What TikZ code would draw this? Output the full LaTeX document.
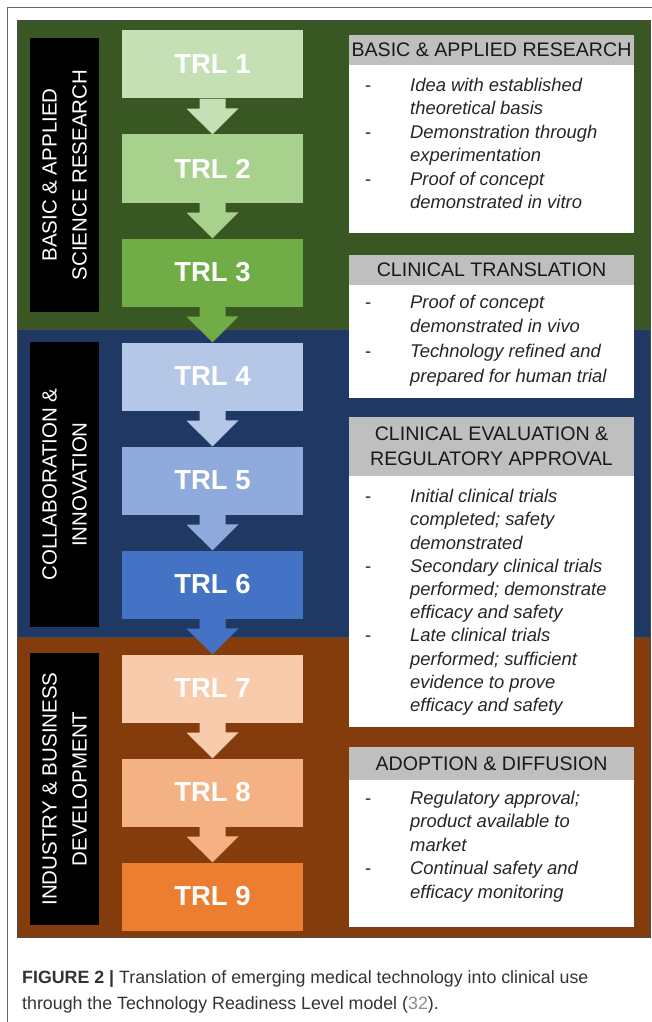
\documentclass[tikz,border=0pt]{standalone}
\usepackage{fontspec}
\setmainfont{Liberation Sans}
\usetikzlibrary{positioning}
\usetikzlibrary{calc}
\definecolor{bandgreen}{RGB}{56,87,35}
\definecolor{bandblue}{RGB}{32,56,100}
\definecolor{bandbrown}{RGB}{132,60,12}
\definecolor{trlone}{RGB}{197,224,180}
\definecolor{trltwo}{RGB}{169,209,142}
\definecolor{trlthree}{RGB}{112,173,71}
\definecolor{trlfour}{RGB}{180,199,231}
\definecolor{trlfive}{RGB}{143,170,220}
\definecolor{trlsix}{RGB}{68,114,196}
\definecolor{trlseven}{RGB}{248,203,173}
\definecolor{trleight}{RGB}{244,177,131}
\definecolor{trlnine}{RGB}{237,125,49}
\definecolor{headgray}{RGB}{191,191,191}
\definecolor{bodytext}{RGB}{38,38,38}
\definecolor{captext}{RGB}{51,51,51}
\newcommand{\dashitem}{\llap{\makebox[45pt][l]{\upshape -}}}

\begin{document}
\begin{tikzpicture}[x=1pt, y=-1pt,
    band/.style={draw=black!70, line width=0.8pt},
    sidebox/.style={fill=black, minimum height=69pt, text=white, align=center, rotate=90, inner sep=0pt, font=\fontsize{20.5}{30}\selectfont},
    trlbox/.style={minimum width=181pt, minimum height=68pt, text=white, inner sep=0pt, font=\bfseries\fontsize{27.5}{30}\selectfont},
    headbox/.style={fill=headgray, minimum width=285pt, inner sep=0pt, align=center, text=black!90, font=\fontsize{19.6}{25}\selectfont},
    bodybox/.style={fill=white, minimum width=285pt, inner sep=0pt},
    bodytxt/.style={anchor=base west, inner sep=0pt, align=left, text=bodytext, font=\itshape\fontsize{18.4}{23.5}\selectfont}]

        \useasboundingbox (0,0) rectangle (652,1022);

        % Frame
        \draw[black!60, line width=1pt] (7,1022) -- (7,8) -- (652,8);

        % Bands
        \fill[bandgreen, band] (17,20) rectangle (650,329);
        \fill[bandblue, band] (17,329) rectangle (650,637);
        \fill[bandbrown, band] (17,637) rectangle (650,937);

        % Side labels
        \node[sidebox, minimum width=274pt] (sideA) at (64.5,175) {BASIC \& APPLIED\\SCIENCE RESEARCH};
        \node[sidebox, minimum width=285pt] (sideB) at (64.5,484.5) {COLLABORATION \&\\INNOVATION};
        \node[sidebox, minimum width=272pt] (sideC) at (64.5,789) {INDUSTRY \& BUSINESS\\DEVELOPMENT};

        % TRL steps
        \foreach \i/\c in {1/trlone,2/trltwo,3/trlthree,4/trlfour,5/trlfive,6/trlsix,7/trlseven,8/trleight,9/trlnine}
            \node[trlbox, fill=\c] (t\i) at (212.5,{64.5+104*(\i-1)}) {TRL \i};

        % Arrows between steps
        \foreach \i/\j/\c in {1/2/trlone,2/3/trltwo,3/4/trlthree,4/5/trlfour,5/6/trlfive,6/7/trlsix,7/8/trlseven,8/9/trleight}
            \fill[\c] ($(t\i.south)+(-13,0)$) -- ++(0,10) -- ++(-13,0) -- (t\j.north) -- ++(26,-26) -- ++(-13,0) -- ($(t\i.south)+(13,0)$) -- cycle;

        % Right boxes (text placed by its last baseline)
        \node[headbox, minimum height=30pt] (hA) at (491.5,50) {BASIC \& APPLIED RESEARCH};
        \node[bodybox, minimum height=168pt, below=0pt of hA] (bA) {};
        \node[bodytxt] (xA) at (410,208.5) {%
            \dashitem Idea with established\\
            theoretical basis\\
            \dashitem Demonstration through\\
            experimentation\\
            \dashitem Proof of concept\\
            demonstrated in vitro};

        \node[headbox, minimum height=30pt] (hB) at (491.5,270) {CLINICAL TRANSLATION};
        \node[bodybox, minimum height=113pt, below=0pt of hB] (bB) {};
        \node[bodytxt, font=\itshape\fontsize{18.4}{24.8}\selectfont] (xB) at (410,382.5) {%
            \dashitem Proof of concept\\
            demonstrated in vivo\\
            \dashitem Technology refined and\\
            prepared for human trial};

        \node[headbox, minimum height=59pt] (hC) at (491.5,446.5) {CLINICAL EVALUATION \&\\REGULATORY APPROVAL};
        \node[bodybox, minimum height=251pt, below=0pt of hC] (bC) {};
        \node[bodytxt, font=\itshape\fontsize{18.4}{23.2}\selectfont] (xC) at (410,711.5) {%
            \dashitem Initial clinical trials\\
            completed; safety\\
            demonstrated\\
            \dashitem Secondary clinical trials\\
            performed; demonstrate\\
            efficacy and safety\\
            \dashitem Late clinical trials\\
            performed; sufficient\\
            evidence to prove\\
            efficacy and safety};

        \node[headbox, minimum height=33pt] (hD) at (491.5,763.5) {ADOPTION \& DIFFUSION};
        \node[bodybox, minimum height=147pt, below=0pt of hD] (bD) {};
        \node[bodytxt] (xD) at (410,898) {%
            \dashitem Regulatory approval;\\
            product available to\\
            market\\
            \dashitem Continual safety and\\
            efficacy monitoring};

        % Caption
        \node[anchor=base west, inner sep=0pt, align=left, text=captext, font=\fontsize{17.8}{26}\selectfont] (cap) at (22,1009) {%
            {\bfseries FIGURE 2 |} Translation of emerging medical technology into clinical use\\
            through the Technology Readiness Level model ({\color{black!45}32}).};

    \end{tikzpicture}
\end{document}
